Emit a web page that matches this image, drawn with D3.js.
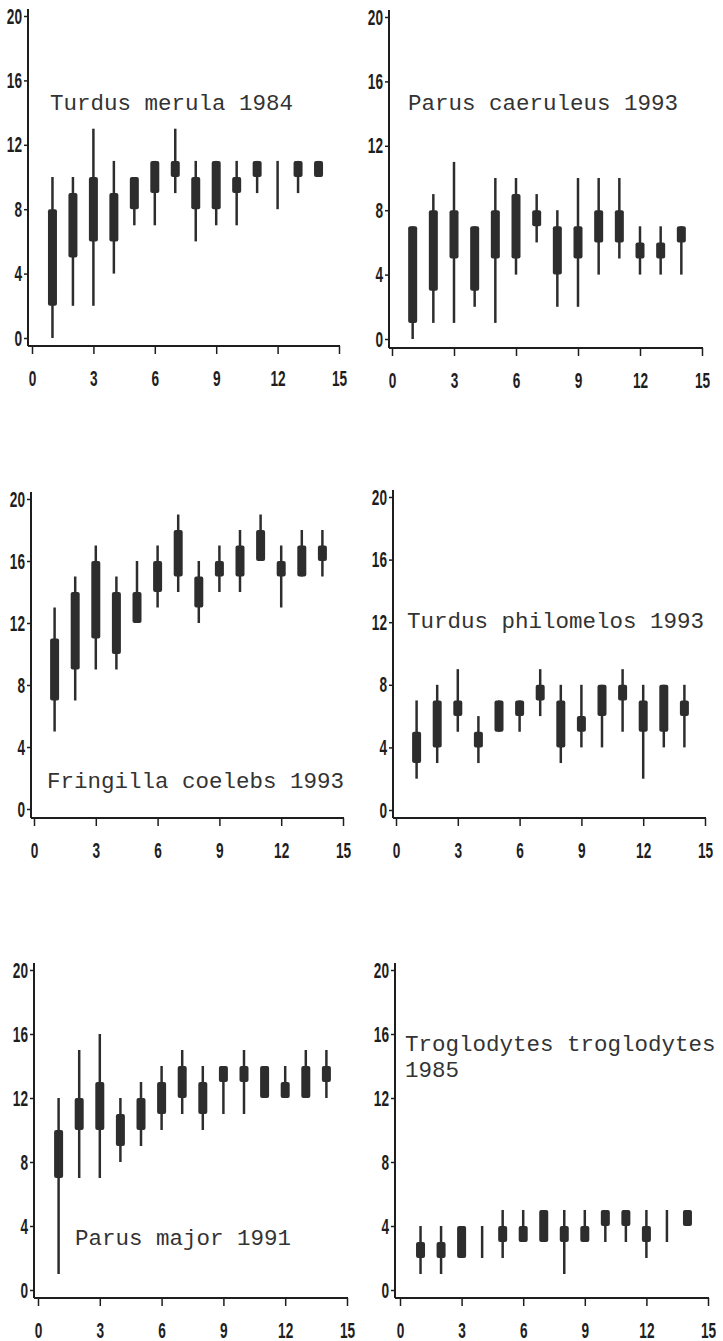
<!DOCTYPE html>
<html>
<head>
<meta charset="utf-8">
<script src="https://cdnjs.cloudflare.com/ajax/libs/d3/7.8.5/d3.min.js"></script>
<style>
body { margin: 0; background: #fff; }
.tick text { font-family: "Liberation Sans", Arial, sans-serif; font-size: 22px; font-weight: bold; fill: #1e1e1e; }
.tick line { stroke: #1e1e1e; stroke-width: 1.5; }
.titre { font-family: "Liberation Mono", "Courier New", monospace; font-size: 22.5px; fill: #333; }
</style>
</head>
<body>
<svg id="fig" width="723" height="1341"></svg>
<script>
// jours (axe x) et graduations
var jours = [1, 2, 3, 4, 5, 6, 7, 8, 9, 10, 11, 12, 13, 14];
var xTicks = [0, 3, 6, 9, 12, 15];
var yTicks = [0, 4, 8, 12, 16, 20];

// [min, bas de boîte, haut de boîte, max] ; null = pas de boîte
var merula84 = [[0,2,8,10],[2,5,9,10],[2,6,10,13],[4,6,9,11],[7,8,10,10],[7,9,11,11],[9,10,11,13],
                [6,8,10,11],[7,8,11,11],[7,9,10,11],[9,10,11,11],[8,null,null,11],[9,10,11,11],[10,10,11,11]];
var caeruleus93 = [[0,1,7,7],[1,3,8,9],[1,5,8,11],[2,3,7,7],[1,5,8,10],[4,5,9,10],[6,7,8,9],
                   [2,4,7,8],[2,5,7,10],[4,6,8,10],[5,6,8,10],[4,5,6,7],[4,5,6,7],[4,6,7,7]];
var coelebs93 = [[5,7,11,13],[7,9,14,15],[9,11,16,17],[9,10,14,15],[12,12,14,16],[13,14,16,17],[14,15,18,19],
                 [12,13,15,16],[14,15,16,17],[14,15,17,18],[16,16,18,19],[13,15,16,17],[15,15,17,18],[15,16,17,18]];
var philomelos93 = [[2,3,5,7],[3,4,7,8],[5,6,7,9],[3,4,5,6],[5,5,7,7],[5,6,7,7],[6,7,8,9],
                    [3,4,7,8],[4,5,6,8],[4,6,8,8],[5,7,8,9],[2,5,7,8],[4,5,8,8],[4,6,7,8]];
var major91 = [[1,7,10,12],[7,10,12,15],[7,10,13,16],[8,9,11,12],[9,10,12,13],[10,11,13,14],[11,12,14,15],
               [10,11,13,14],[11,13,14,14],[11,13,14,15],[12,12,14,14],[12,12,13,14],[12,12,14,15],[12,13,14,15]];
var troglodytes85 = [[1,2,3,4],[1,2,3,4],[2,2,4,4],[2,null,null,4],[2,3,4,5],[3,3,4,5],[3,3,5,5],
                     [1,3,4,5],[3,3,4,5],[3,4,5,5],[3,4,5,5],[2,3,4,5],[3,null,null,5],[4,4,5,5]];

var titres = [["Turdus merula 1984"], ["Parus caeruleus 1993"], ["Fringilla coelebs 1993"],
              ["Turdus philomelos 1993"], ["Parus major 1991"], ["Troglodytes troglodytes", "1985"]];

// mise en page des six panneaux
var panneaux = [
    {data: merula84,      titre: titres[0], left: 28,  x0: 32,  x15: 339, y0: 338,  y20: 16,  base: 346,  tx: 50,  ty: 110},
    {data: caeruleus93,   titre: titres[1], left: 389, x0: 392, x15: 702, y0: 339,  y20: 17,  base: 348,  tx: 408, ty: 110},
    {data: coelebs93,     titre: titres[2], left: 31,  x0: 34,  x15: 343, y0: 809,  y20: 499, base: 818,  tx: 47,  ty: 788},
    {data: philomelos93,  titre: titres[3], left: 393, x0: 396, x15: 705, y0: 810,  y20: 497, base: 818,  tx: 407, ty: 628},
    {data: major91,       titre: titres[4], left: 34,  x0: 38,  x15: 347, y0: 1290, y20: 970, base: 1298, tx: 75,  ty: 1245},
    {data: troglodytes85, titre: titres[5], left: 395, x0: 400, x15: 708, y0: 1290, y20: 970, base: 1298, tx: 405, ty: 1051}
];

var svg = d3.select("#fig");
var couleur = "#2d2d2d";
var serre = 0.62; // chiffres étroits

panneaux.forEach(function(p) {
    var x = d3.scaleLinear().domain([0, 15]).range([p.x0, p.x15]);
    var y = d3.scaleLinear().domain([0, 20]).range([p.y0, p.y20]);
    var g = svg.append("g");

    // axes
    var ay = g.append("g")
        .attr("transform", "translate(" + p.left + ",0)")
        .call(d3.axisLeft(y).tickValues(yTicks).tickSize(4).tickPadding(2));
    ay.select(".domain").remove();
    ay.selectAll(".tick text")
        .attr("x", -6 / serre)
        .attr("transform", "scale(" + serre + ",1)");

    var ax = g.append("g")
        .attr("transform", "translate(0," + p.base + ")")
        .call(d3.axisBottom(x).tickValues(xTicks).tickSize(8).tickPadding(16));
    ax.select(".domain").remove();
    ax.selectAll(".tick text")
        .attr("transform", "scale(" + serre + ",1)");

    g.selectAll(".tick text").attr("fill", null);
    g.selectAll(".tick line").attr("stroke", null);

    g.append("line")
        .attr("x1", p.left).attr("x2", p.left)
        .attr("y1", p.y20 - 7).attr("y2", p.base)
        .attr("stroke", "#1e1e1e").attr("stroke-width", 2);
    g.append("line")
        .attr("x1", p.left).attr("x2", x(15) + 1)
        .attr("y1", p.base).attr("y2", p.base)
        .attr("stroke", "#1e1e1e").attr("stroke-width", 2);

    // étendue min-max
    g.selectAll(".moust")
        .data(p.data)
        .enter().append("line")
        .attr("class", "moust")
        .attr("x1", function(d, i) { return x(jours[i]); })
        .attr("x2", function(d, i) { return x(jours[i]); })
        .attr("y1", function(d) { return y(d[0]); })
        .attr("y2", function(d) { return y(d[3]); })
        .attr("stroke", couleur)
        .attr("stroke-width", 2.5);

    // boîtes
    g.selectAll(".boite")
        .data(p.data.filter(function(d) { return d[1] !== null; }))
        .enter().append("rect")
        .attr("class", "boite")
        .attr("x", function(d) { return x(jours[p.data.indexOf(d)]) - 4.5; })
        .attr("y", function(d) { return y(d[2]); })
        .attr("width", 9)
        .attr("height", function(d) { return y(d[1]) - y(d[2]); })
        .attr("rx", 2)
        .attr("fill", couleur);

    // titre (interligne serré)
    g.selectAll(".titre")
        .data(p.titre)
        .enter().append("text")
        .attr("class", "titre")
        .attr("x", p.tx)
        .attr("y", function(d, i) { return p.ty + i * 26; })
        .text(function(d) { return d; });
});
</script>
</body>
</html>
